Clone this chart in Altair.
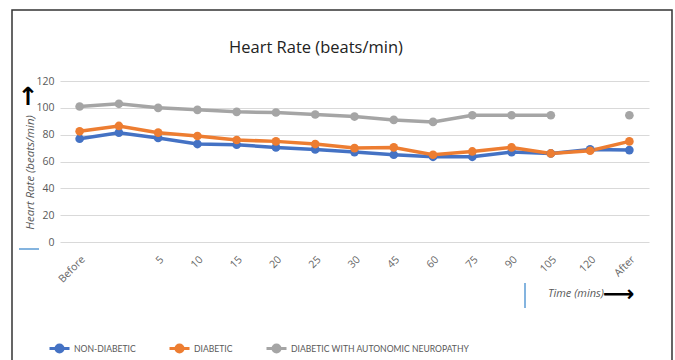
import altair as alt
import pandas as pd

categories = ["Before", " ", "5", "10", "15", "20", "25", "30", "45", "60", "75", "90", "105", "120", "After"]
non_diabetic = [77, 81.5, 77.5, 73, 72.5, 70.5, 69, 67, 65, 63.5, 63.5, 67, 66, 69, 68.5]
diabetic = [82.5, 86.5, 81.5, 79, 76, 75, 73, 70, 70.5, 65, 67.5, 70.5, 66, 68, 75]
neuropathy = [101, 103, 100, 98.5, 97, 96.5, 95, 93.5, 91, 89.5, 94.5, 94.5, 94.5, None, 94.5]
series_names = ["NON-DIABETIC", "DIABETIC", "DIABETIC WITH AUTONOMIC NEUROPATHY"]
colors = ["#4472C4", "#ED7D31", "#A5A5A5"]

rows = []
for name, vals in zip(series_names, [non_diabetic, diabetic, neuropathy]):
    for c, v in zip(categories, vals):
        rows.append({"time": c, "series": name, "rate": v})
df = pd.DataFrame(rows)

FONT = "Open Sans"
GREY = "#595959"

x_enc = alt.X("time:N", sort=categories, title=None,
              scale=alt.Scale(paddingInner=0, paddingOuter=0),
              axis=alt.Axis(labelAngle=315, labelFont=FONT, labelFontSize=10.5,
                            labelColor="#666666", ticks=False, domain=False,
                            labelPadding=12, grid=False))
y_enc = alt.Y("rate:Q", scale=alt.Scale(domain=[0, 120]),
              axis=alt.Axis(values=[0, 20, 40, 60, 80, 100, 120], title="Heart Rate (beats/min)",
                            titleFont=FONT, titleFontStyle="italic", titleFontWeight="normal",
                            titleFontSize=11.5, titleColor=GREY, titleAngle=270,
                            titleX=-30, titleY=91, titleAlign="center", titleBaseline="middle",
                            labelFont=FONT, labelFontSize=10.5, labelColor=GREY,
                            ticks=False, domain=False, labelPadding=6,
                            grid=True, gridColor="#d9d9d9", gridWidth=1))
color_enc = alt.Color("series:N", sort=series_names,
                      scale=alt.Scale(domain=series_names, range=colors),
                      legend=alt.Legend(title=None, orient="none", direction="horizontal",
                                        legendX=-12, legendY=256,
                                        symbolType="M-1,0H1M-0.35,0A0.35,0.35,0,1,1,0.35,0A0.35,0.35,0,1,1,-0.35,0Z",
                                        symbolSize=400, symbolStrokeWidth=3,
                                        labelFont="Lato", labelFontSize=8.6,
                                        labelColor=GREY,
                                        labelLimit=0, columnPadding=27, labelOffset=3))

base = alt.Chart(df).encode(x=x_enc, y=y_enc, color=color_enc)
lines = base.mark_line(strokeWidth=3.5, invalid="break-paths-filter-domains")
points = base.mark_point(filled=True, size=75, opacity=1)

one = pd.DataFrame({"a": [0]})
frame = alt.Chart(one).mark_rect(fill=None, stroke="#333333", strokeWidth=1.5).encode(
    x=alt.value(-48), x2=alt.value(612), y=alt.value(-71), y2=alt.value(290))
title = alt.Chart(one).mark_text(text="Heart Rate (beats/min)", font=FONT, fontSize=16.5,
                                 color="#222222").encode(x=alt.value(256), y=alt.value(-33))
up_arrow = alt.Chart(one).mark_text(text="↑", font="DejaVu Sans", fontSize=25, fontWeight="bold",
                                    color="#000000").encode(x=alt.value(-32), y=alt.value(16))
blue_tick = alt.Chart(one).mark_rule(color="#5B9BD5", strokeWidth=1.5).encode(
    x=alt.value(-41), x2=alt.value(-21), y=alt.value(168))
blue_vline = alt.Chart(one).mark_rule(color="#5B9BD5", strokeWidth=1.5).encode(
    x=alt.value(465), y=alt.value(202), y2=alt.value(227))
time_label = alt.Chart(one).mark_text(text="Time (mins)", font=FONT, fontSize=11, fontStyle="italic",
                                      color=GREY, align="left").encode(x=alt.value(488), y=alt.value(213))
right_arrow = alt.Chart(one).mark_text(text="⟶", font="DejaVu Sans", fontSize=22, fontWeight="bold",
                                       color="#000000", align="left").encode(x=alt.value(543), y=alt.value(213))

chart = alt.layer(frame, lines, points, title, up_arrow, blue_tick, blue_vline, time_label, right_arrow).properties(
    width=589, height=161,
    padding={"left": 60, "top": 81, "right": 26, "bottom": 118},
    autosize=alt.AutoSizeParams(type="none"),
    background="white",
).configure_view(stroke=None)

chart.save("out.html", embed_options={"renderer": "svg", "actions": False})
